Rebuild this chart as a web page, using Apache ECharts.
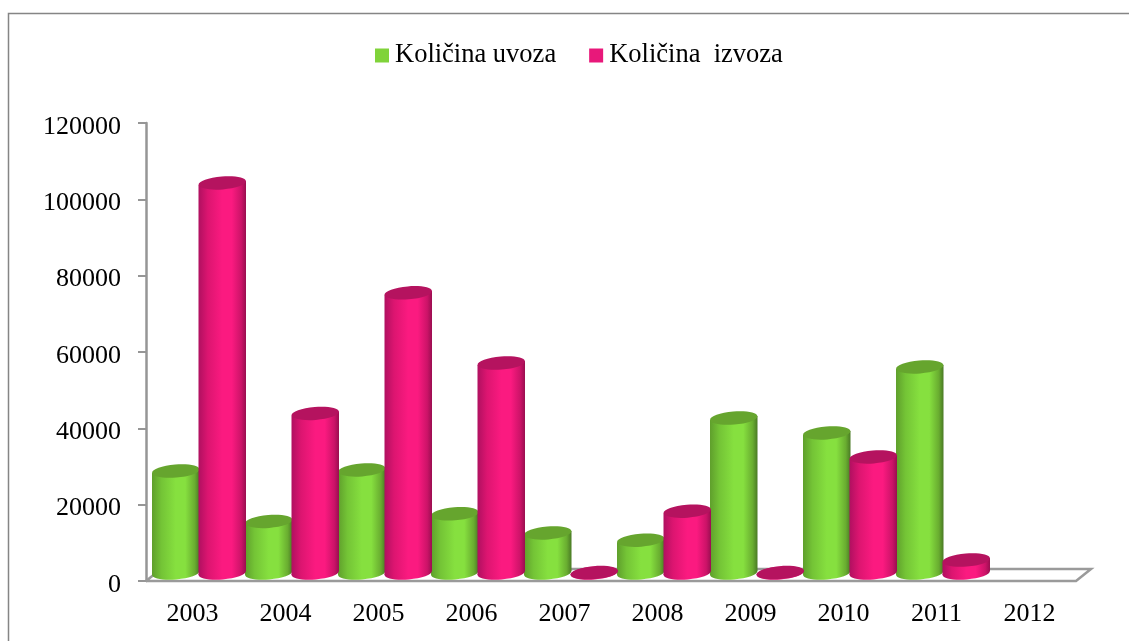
<!DOCTYPE html>
<html>
<head>
<meta charset="utf-8">
<style>html,body{margin:0;padding:0;background:#fff}#main{width:1129px;height:641px}</style>
<script src="https://cdn.jsdelivr.net/npm/echarts@6/dist/echarts.min.js"></script>
</head>
<body>
<div id="main"></div>
<script>
var years = ['2003','2004','2005','2006','2007','2008','2009','2010','2011','2012'];
var uvoz = [26700,13500,27000,15500,10500,8600,40600,36700,54000,null];
var izvoz = [102200,41800,73400,55000,100,16200,100,30400,3400,null];
var seriesNames = ['Količina uvoza','Količina  izvoza'];

var chartDom = document.getElementById('main');
var myChart = echarts.init(chartDom);
var FONT = '"Liberation Serif", serif';

function shade(c) {
  return new echarts.graphic.LinearGradient(0, 0, 1, 0, [
    {offset: 0, color: c[0]},
    {offset: 0.2, color: c[1]},
    {offset: 0.5, color: c[2]},
    {offset: 0.7, color: c[2]},
    {offset: 0.9, color: c[3]},
    {offset: 1, color: c[4]}
  ]);
}

// cylinder for one value, side -1 = left of the pair, 1 = right
function cylinder(side, body, topColor) {
  return function (params, api) {
    var v = api.value(1);
    if (v == null || isNaN(v)) return;
    var idx = api.value(0);
    var band = api.size([1, 0])[0];
    var bw = band / 2;
    var cx = api.coord([idx, 0])[0] + 6.5 + side * bw / 2;
    var lift = 8;
    var top = api.coord([idx, v])[1] - lift;
    var bot = api.coord([idx, 0])[1] - lift;
    var tilt = 2;
    var rx = bw / 2 + 0.5, ry = 6.5;
    var fill = shade(body);
    return {
      type: 'group',
      children: [
        {type: 'ellipse', shape: {cx: cx, cy: bot, rx: rx, ry: ry}, rotation: 0.08, originX: cx, originY: bot, style: {fill: fill}},
        {type: 'polygon', shape: {points: [[cx - rx, top + tilt], [cx + rx, top - tilt], [cx + rx, bot - tilt], [cx - rx, bot + tilt]]}, style: {fill: fill}},
        {type: 'ellipse', shape: {cx: cx, cy: top, rx: rx, ry: ry}, rotation: 0.08, originX: cx, originY: top, style: {fill: topColor}}
      ]
    };
  };
}

function floor(params, api) {
  var c = params.coordSys;
  var l = c.x, r = c.x + c.width, y = c.y + c.height;
  return {
    type: 'polyline',
    shape: {points: [[l, y], [r, y], [r + 15, y - 12], [l + 15, y - 12], [l, y]]},
    style: {fill: null, stroke: '#9a9a9a', lineWidth: 2.5}
  };
}

function toData(arr) {
  return arr.map(function (v, i) { return [i, v]; });
}

var option = {
  backgroundColor: '#ffffff',
  animation: false,
  graphic: [{
    type: 'rect',
    shape: {x: 8.5, y: 13.5, width: 1300, height: 800},
    style: {fill: null, stroke: '#858585', lineWidth: 1.5}
  }],
  legend: {
    left: 370,
    top: 37,
    itemWidth: 14,
    itemHeight: 14,
    itemGap: 33,
    icon: 'rect',
    data: seriesNames,
    textStyle: {fontFamily: FONT, fontSize: 26.5, color: '#000', padding: [0, 0, 0, 1]}
  },
  grid: {left: 146, top: 123, width: 930, height: 458},
  xAxis: {
    type: 'category',
    data: years,
    axisLine: {show: false},
    axisTick: {show: false},
    axisLabel: {fontFamily: FONT, fontSize: 26, color: '#000', margin: 20}
  },
  yAxis: {
    type: 'value',
    min: 0,
    max: 120000,
    interval: 20000,
    splitLine: {show: false},
    axisLine: {show: true, lineStyle: {color: '#969696', width: 2.5}},
    axisTick: {show: true, length: 8, lineStyle: {color: '#969696', width: 2}},
    axisLabel: {
      margin: 25,
      formatter: function (v) { return '{n|' + v + '}'; },
      rich: {n: {fontFamily: FONT, fontSize: 26, color: '#000', padding: [8, 0, 0, 0]}}
    }
  },
  series: [
    {type: 'custom', silent: true, renderItem: floor, data: [[0, 0]], z: 1, tooltip: {show: false}},
    {
      name: seriesNames[0], type: 'custom', z: 2, clip: false,
      itemStyle: {color: '#80d33a'},
      renderItem: cylinder(-1, ['#5f9f2c', '#74c436', '#86e03f', '#69ad30', '#4a7a25'], '#66a52e'),
      encode: {x: 0, y: 1},
      data: toData(uvoz)
    },
    {
      name: seriesNames[1], type: 'custom', z: 3, clip: false,
      itemStyle: {color: '#e8187a'},
      renderItem: cylinder(1, ['#b01060', '#dc1570', '#fb1a80', '#cc1368', '#9a0e50'], '#b5135f'),
      encode: {x: 0, y: 1},
      data: toData(izvoz)
    }
  ]
};
myChart.setOption(option);
</script>
</body>
</html>
